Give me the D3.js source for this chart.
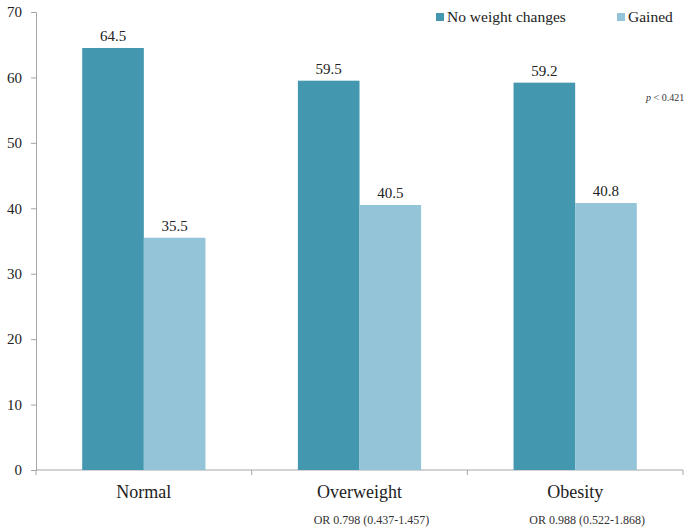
<!DOCTYPE html>
<html><head><meta charset="utf-8">
<script src="https://cdn.jsdelivr.net/npm/d3@7"></script>
<style>body{margin:0;background:#fff;} svg{display:block;font-family:"Liberation Serif","Times New Roman",serif;}</style>
</head><body>
<svg id="chart" width="689" height="530"></svg>
<script>
const categories = ["Normal", "Overweight", "Obesity"];
const seriesNames = ["No weight changes", "Gained"];
const noChange = [64.5, 59.5, 59.2];
const gained = [35.5, 40.5, 40.8];
const orLabels = ["", "OR 0.798 (0.437-1.457)", "OR 0.988 (0.522-1.868)"];
const yTicks = [0, 10, 20, 30, 40, 50, 60, 70];
const pText = "< 0.421";

const colors = ["#4397ae", "#93c4d7"];
const svg = d3.select("#chart");
const mLeft = 36, mRight = 683, mTop = 12, mBottom = 470;

const x = d3.scaleBand().domain(categories).range([mLeft, mRight]).paddingInner(0).paddingOuter(0);
const inner = d3.scaleBand().domain(seriesNames).range([0, x.bandwidth()]).paddingInner(0).paddingOuter(0.75);
const y = d3.scaleLinear().domain([0, 70]).range([mBottom, mTop]);

const data = categories.map((c, i) => ({cat: c, vals: [noChange[i], gained[i]]}));

// axes
const axisColor = "#a6a6a6";
const yAxis = svg.append("g").attr("transform", `translate(${mLeft},0)`)
  .call(d3.axisLeft(y).tickValues(yTicks).tickSize(5).tickPadding(9).tickFormat(d3.format("d")));
yAxis.select(".domain").attr("stroke", axisColor);
yAxis.selectAll(".tick line").attr("stroke", axisColor);
yAxis.selectAll(".tick text").attr("font-size", 15).attr("fill", "#222").attr("font-family", "Liberation Serif");

const xAxis = svg.append("g").attr("transform", `translate(0,${mBottom})`)
  .call(d3.axisBottom(x).tickSize(0).tickFormat(""));
xAxis.select(".domain").attr("stroke", axisColor).attr("d", `M${mLeft},0H${mRight}`);
xAxis.selectAll(".tick").remove();
// category boundary ticks
const bounds = categories.map(c => x(c)).concat([x(categories[categories.length-1]) + x.bandwidth()]);
svg.append("g").selectAll("line").data(bounds).join("line")
  .attr("x1", d => d).attr("x2", d => d).attr("y1", mBottom).attr("y2", mBottom + 5)
  .attr("stroke", axisColor);

// bars
const g = svg.append("g");
data.forEach(d => {
  d.vals.forEach((v, j) => {
    const bx = x(d.cat) + inner(seriesNames[j]);
    g.append("rect").attr("x", bx).attr("y", y(v)).attr("width", inner.bandwidth())
      .attr("height", y(0) - y(v)).attr("fill", colors[j]);
    g.append("text").attr("x", bx + inner.bandwidth()/2).attr("y", y(v) - 7)
      .attr("text-anchor", "middle").attr("font-size", 15).attr("fill", "#222")
      .text(v.toFixed(1));
  });
});

// category labels
svg.append("g").selectAll("text").data(categories).join("text")
  .attr("x", d => x(d) + x.bandwidth()/2).attr("y", 498)
  .attr("text-anchor", "middle").attr("font-size", 18).attr("fill", "#222").text(d => d);
svg.append("g").selectAll("text").data(orLabels).join("text")
  .attr("x", (d, i) => x(categories[i]) + x.bandwidth()/2 + 12).attr("y", 524)
  .attr("text-anchor", "middle").attr("font-size", 12).attr("fill", "#333").text(d => d);

// legend
const legX = [436, 617];
seriesNames.forEach((s, i) => {
  svg.append("rect").attr("x", legX[i]).attr("y", 13).attr("width", 8).attr("height", 8).attr("fill", colors[i]);
  svg.append("text").attr("x", legX[i] + 11).attr("y", 22).attr("font-size", 15.5).attr("fill", "#222").text(s);
});

// p value
const pt = svg.append("text").attr("x", 646).attr("y", 101).attr("font-size", 10).attr("fill", "#333");
pt.append("tspan").attr("font-style", "italic").text("p");
pt.append("tspan").text(" " + pText);
</script>
</body></html>
